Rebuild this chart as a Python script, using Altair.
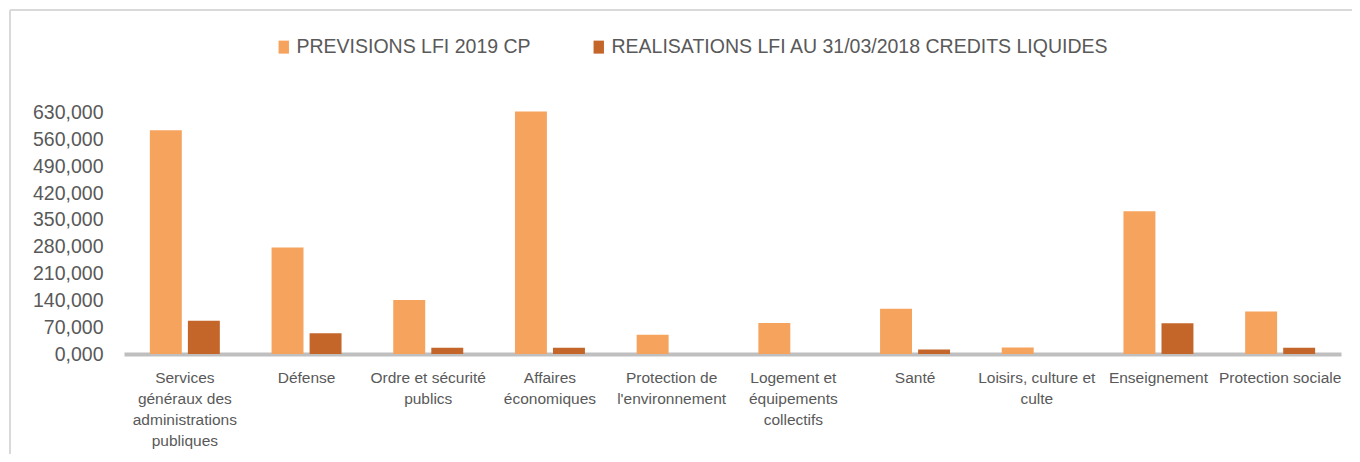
import altair as alt
import pandas as pd

categories = [
    "Services|généraux des|administrations|publiques",
    "Défense",
    "Ordre et sécurité|publics",
    "Affaires|économiques",
    "Protection de|l'environnement",
    "Logement et|équipements|collectifs",
    "Santé",
    "Loisirs, culture et|culte",
    "Enseignement",
    "Protection sociale",
]
series = ["PREVISIONS LFI 2019 CP", "REALISATIONS LFI AU 31/03/2018 CREDITS LIQUIDES"]
previsions = [584000, 278000, 141000, 633000, 50000, 81000, 118000, 17000, 373000, 111000]
realisations = [87000, 54000, 16000, 16000, 0, 0, 12000, 0, 80000, 16000]
y_ticks = [0, 70000, 140000, 210000, 280000, 350000, 420000, 490000, 560000, 630000]
colors = ["#F6A35E", "#C4662A"]

rows = []
for c, p, r in zip(categories, previsions, realisations):
    rows.append({"cat": c, "serie": series[0], "val": p})
    rows.append({"cat": c, "serie": series[1], "val": r})
df = pd.DataFrame(rows)

FONT = "Liberation Sans"
TXT = "#595959"

bars = alt.Chart(df).mark_bar(strokeWidth=0).encode(
    x=alt.X("cat:N", sort=categories, title=None,
            scale=alt.Scale(paddingInner=0.375, paddingOuter=0.1875),
            axis=alt.Axis(labelExpr="split(datum.label, '|')", labelAngle=0,
                          labelFontSize=15.5, labelLineHeight=21, labelPadding=16,
                          labelBaseline="top", labelColor=TXT, labelFont=FONT,
                          labelLimit=0, ticks=False, domainColor="#BFBFBF",
                          domainWidth=4)),
    xOffset=alt.XOffset("serie:N", sort=series,
                        scale=alt.Scale(paddingInner=0.16, paddingOuter=0.08)),
    y=alt.Y("val:Q", title=None,
            scale=alt.Scale(domain=[0, 645000], nice=False),
            axis=alt.Axis(values=y_ticks, labelExpr="floor(datum.value/1000) + ',000'",
                          labelFontSize=19.5, labelColor=TXT, labelFont=FONT,
                          labelPadding=21, ticks=False, domain=False, grid=False)),
    color=alt.Color("serie:N", sort=series, title=None,
                    scale=alt.Scale(domain=series, range=colors),
                    legend=alt.Legend(orient="none", legendX=150, legendY=-70,
                                      direction="horizontal",
                                      symbolType="M-0.8,-1L0.8,-1L0.8,1L-0.8,1Z",
                                      symbolSize=169, symbolStrokeWidth=0,
                                      labelFontSize=19.5, labelColor=TXT, labelFont=FONT,
                                      labelOffset=3, columnPadding=58, labelLimit=0)),
)

frame_left = alt.Chart(df).mark_rule(color="#D9D9D9", strokeWidth=2).encode(
    x=alt.value(-114), y=alt.value(-97), y2=alt.value(400))
frame_top = alt.Chart(df).mark_rule(color="#D9D9D9", strokeWidth=2).encode(
    x=alt.value(-114), x2=alt.value(1300), y=alt.value(-97))

chart = alt.layer(frame_left, frame_top, bars).properties(
    width=1217, height=247,
    autosize=alt.AutoSizeParams(type="none"),
    padding={"left": 116, "top": 99, "right": 11, "bottom": 100},
    background="white",
).configure_view(stroke=None)

chart.save("out.html", embed_options={"renderer": "svg", "actions": False})
